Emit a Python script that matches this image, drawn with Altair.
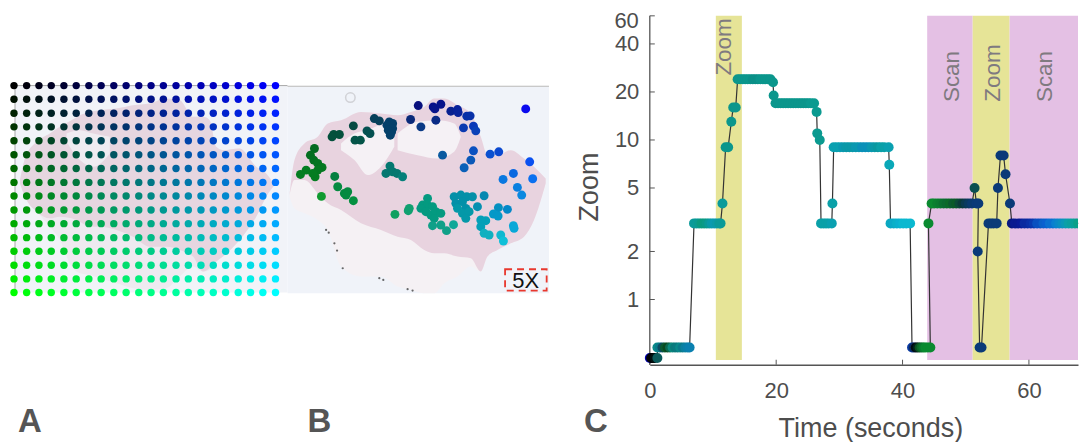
import altair as alt
import pandas as pd

FONT = "Liberation Sans"
TEXT = "#4d4d4d"

# ---------- Panel A: colour grid (reference coordinates, slide units)
grid_x = [42, 80, 117, 154, 192, 229, 267, 304, 342, 379, 417, 454, 491, 529, 566, 604, 641, 678, 716, 753, 790, 828]
grid_y = [46, 87, 129, 170, 212, 254, 295, 337, 378, 420, 461, 503, 544, 586, 627, 668]

a_tissue_x = [60, 75, 110, 150, 180, 215, 240, 270, 300, 350, 400, 450, 500, 540, 580, 610, 630, 650, 670, 720, 770, 800, 825]
a_pale_top = [330, 265, 215, 190, 170, 150, 135, 125, 120, 115, 105, 100, 85, 90, 140, 140, 150, 230, 240, 235, 290, 310, 345]
a_pale_bot = [340, 380, 425, 470, 510, 590, 610, 615, 625, 640, 655, 660, 655, 620, 590, 605, 600, 575, 560, 510, 440, 380, 345]
a_pink_bot = [340, 380, 425, 445, 440, 445, 455, 470, 470, 480, 500, 530, 530, 540, 560, 605, 595, 575, 560, 510, 440, 380, 345]
a_hole_x = [200, 240, 280, 330]
a_hole_top = [190, 180, 190, 200]
a_hole_bot = [215, 270, 290, 250]

# ---------- Panel B: tissue and visited positions
b_tissue_x = [15, 30, 60, 100, 130, 170, 230, 290, 340, 380, 420, 450, 480, 520, 560, 590, 610, 640, 680, 720, 750, 785]
b_pale_top = [345, 240, 190, 170, 130, 120, 95, 100, 105, 95, 80, 55, 55, 75, 100, 170, 225, 225, 210, 235, 260, 295]
b_pale_bot = [350, 385, 400, 420, 450, 560, 590, 590, 620, 630, 640, 640, 610, 590, 560, 575, 530, 510, 490, 470, 420, 310]
b_pink_bot = [345, 300, 300, 340, 370, 390, 430, 450, 470, 480, 510, 520, 520, 530, 535, 575, 530, 510, 490, 470, 420, 310]
b_hole1_x = [170, 210, 250, 290, 330]
b_hole1_top = [190, 160, 150, 135, 170]
b_hole1_bot = [210, 240, 285, 260, 200]
b_hole2_x = [340, 400, 460, 510, 530]
b_hole2_top = [160, 125, 120, 130, 170]
b_hole2_bot = [210, 225, 235, 215, 170]
speck_x = [125, 133, 150, 158, 175, 285, 297, 370, 385]
speck_y = [450, 458, 490, 512, 565, 595, 600, 628, 632]

b_x = [402, 447, 452, 470, 500, 520, 522, 548, 558, 379, 410, 455, 725, 538, 568, 575,
       207, 270, 285, 148, 165, 143, 212, 228, 248, 257, 315, 325, 308, 325, 312, 322, 318,
       90, 78, 88, 100, 113, 100, 92, 65, 48, 85, 151, 160, 180, 190, 185, 207, 111,
       317, 305, 325, 338, 355,
       332, 375, 372, 430, 415, 430, 445, 410, 425, 440, 455, 470, 450, 445, 470, 487, 508,
       510, 530, 548, 565, 515, 535, 545, 520, 535, 555, 545, 580, 600,
       605, 590, 590, 600, 615, 643, 670, 628, 642, 688, 690, 650, 658,
       475, 568, 618, 644, 737, 560, 540, 688, 657, 746, 700, 713]
b_y = [76, 80, 86, 72, 93, 88, 97, 108, 107, 118, 140, 120, 86, 143, 138, 152,
       137, 115, 122, 163, 163, 170, 180, 180, 152, 160, 125, 130, 135, 145, 150, 155, 165,
       205, 225, 240, 250, 262, 270, 290, 270, 283, 280, 289, 320, 340, 335, 345, 362, 349,
       258, 280, 275, 280, 290,
       403, 385, 392, 355, 375, 375, 380, 385, 395, 405, 395, 400, 415, 437, 435, 452, 434,
       350, 345, 350, 350, 370, 365, 385, 385, 400, 395, 415, 380, 347,
       422, 420, 440, 460, 465, 383, 388, 402, 408, 437, 445, 465, 483,
       225, 212, 222, 215, 245, 240, 263, 280, 298, 296, 322, 345]
b_color = ["#08107e", "#08108a", "#08148a", "#06128a", "#08208f", "#08209a", "#08229a", "#0830a8", "#0830a8", "#0a2a7a", "#0a3a85", "#0a2a85", "#0a0aee", "#0a38b0", "#0a38b8", "#0a40b8",
           "#064a42", "#06405a", "#06405a", "#04503c", "#04503c", "#04503c", "#045448", "#045448", "#045050", "#045050", "#04406a", "#04406a", "#04406a", "#04406a", "#04406a", "#04406a", "#04406a",
           "#046a20", "#046e20", "#047020", "#047420", "#047820", "#047820", "#047c20", "#047c20", "#047c20", "#047c20", "#048040", "#048a40", "#048a40", "#048a40", "#048a40", "#049040", "#109a30",
           "#047870", "#047870", "#047870", "#047870", "#04807a",
           "#10a060", "#10a070", "#10a070", "#049a80", "#049a80", "#049a80", "#049a80", "#049a80", "#049a80", "#049a80", "#049a80", "#049a80", "#049a80", "#10a088", "#10a088", "#10a088", "#10a898",
           "#0490a8", "#0490a8", "#0490a8", "#0490a8", "#0490a8", "#0490a8", "#0490a8", "#0498a8", "#0498a8", "#0498a8", "#0498a8", "#0490b0", "#0488b0",
           "#04a0b8", "#04a0b8", "#04a0b8", "#10b0c0", "#10b0c0", "#0490c0", "#0488c8", "#0498c8", "#0498c8", "#08a8d8", "#08a8d8", "#10b8d0", "#10c0d8",
           "#0a5aa0", "#0a50c0", "#0a50d0", "#0a48d0", "#0a50f0", "#0a58b8", "#0a60b8", "#0a68e0", "#0a78e0", "#0a70f0", "#0a80e0", "#0a88e0"]

# ---------- Panel C: zoom trace
time_s = [0.0, 0.2, 0.4, 0.6, 0.8, 1.2,
          1.2, 1.6, 2.0, 2.4, 2.8, 3.2, 3.6, 4.0, 4.4, 4.8, 5.2, 5.6, 6.0, 6.3,
          7.0, 7.4, 7.8, 8.2, 8.6, 9.0, 9.4, 9.8, 10.2, 10.6, 11.0, 11.2,
          11.5, 12.0, 12.4, 12.9, 13.2, 13.6,
          13.9, 14.3, 14.7, 15.1, 15.5, 15.9, 16.3, 16.7, 17.1, 17.5, 17.9, 18.3, 18.7, 19.1, 19.5,
          19.6, 19.9, 20.3, 20.7, 21.1, 21.5, 21.9, 22.3, 22.7, 23.1, 23.5, 23.9, 24.3, 24.7, 25.1, 25.5, 26.0,
          26.4, 26.5, 26.9,
          27.1, 27.5, 27.9, 28.3, 28.8, 28.9,
          29.1, 29.6, 30.1, 30.6, 31.1, 31.6, 32.1, 32.6, 33.1, 33.6, 34.1, 34.6, 35.1, 35.6, 36.1, 36.6, 37.1, 37.8,
          37.9, 38.1, 38.6, 39.1, 39.6, 40.1, 40.6, 41.2,
          41.5, 41.8, 42.1, 42.4, 42.7, 43.0, 43.3, 43.6, 44.0, 44.4,
          44.1, 44.6,
          45.0, 45.5, 46.0, 46.5, 47.0, 47.5, 48.0, 48.5, 49.0, 49.5, 50.0, 50.5, 51.0, 51.4, 51.7, 52.0,
          51.9, 52.2, 52.5,
          53.6, 54.0, 54.4, 54.9, 55.1, 55.5, 56.0, 56.3, 57.0,
          57.3, 57.8, 58.3, 58.8, 59.3, 59.8, 60.3, 60.8, 61.3, 61.8, 62.3, 62.8, 63.3, 63.8, 64.3, 64.8, 65.3, 65.8, 66.3, 66.8, 67.3, 67.8]
zoom_level = [0.43, 0.43, 0.43, 0.43, 0.43, 0.43,
              0.5, 0.5, 0.5, 0.5, 0.5, 0.5, 0.5, 0.5, 0.5, 0.5, 0.5, 0.5, 0.5, 0.5,
              3, 3, 3, 3, 3, 3, 3, 3, 3, 3, 3, 3,
              4, 9, 9, 13, 16, 16,
              24, 24, 24, 24, 24, 24, 24, 24, 24, 24, 24, 24, 24, 24, 23,
              19, 17, 17, 17, 17, 17, 17, 17, 17, 17, 17, 17, 17, 17, 17, 17, 17,
              15, 11, 10,
              3, 3, 3, 3, 3, 4,
              9, 9, 9, 9, 9, 9, 9, 9, 9, 9, 9, 9, 9, 9, 9, 9, 9, 9,
              7, 3, 3, 3, 3, 3, 3, 3,
              0.5, 0.5, 0.5, 0.5, 0.5, 0.5, 0.5, 0.5, 0.5, 0.5,
              3, 4,
              4, 4, 4, 4, 4, 4, 4, 4, 4, 4, 4, 4, 4, 5, 4, 4,
              2, 0.5, 0.5,
              3, 3, 3, 3, 5, 8, 8, 6.1, 4,
              3, 3, 3, 3, 3, 3, 3, 3, 3, 3, 3, 3, 3, 3, 3, 3, 3, 3, 3, 3, 3, 3]
point_color = ["#0000b0", "#000010", "#000000", "#000000", "#001010", "#0a5a5a",
               "#0a8a8a", "#0a7a8a", "#0a4a60", "#0a5a30", "#0a4a20", "#0a6a50", "#0a8a80", "#0a7a7a", "#0a7a80", "#0a8a8a", "#0a7a8a", "#0a80a0", "#0a80a8", "#0a80b0",
               "#0a9a9a", "#0a9a98", "#0a9a90", "#0a9a80", "#0a9a80", "#0a9a88", "#0a9a98", "#0a9aa8", "#0a9ab0", "#0a9aa8", "#0a9a9a", "#0a9a98",
               "#0a9a9a", "#0b968c", "#0b968c", "#0b968c", "#0b968c", "#0b968c",
               "#0b968c", "#0b968c", "#0b968c", "#0b968c", "#0b968c", "#0b968c", "#0b9088", "#0b9088", "#0b9088", "#0b968c", "#0b968c", "#0b968c", "#0b968c", "#0b968c", "#0b968c",
               "#0b968c", "#0b968c", "#0b968c", "#0b968c", "#0b968c", "#0b968c", "#0b968c", "#0b968c", "#0b968c", "#0b968c", "#0b968c", "#0b968c", "#0b968c", "#0b968c", "#0b968c", "#0b9a90", "#0b9a90",
               "#0b9a90", "#0b9a90", "#0b9a90",
               "#0aa0a8", "#0aa0a8", "#0aa0a8", "#0aa0a8", "#0aa0b0", "#0aa0a8",
               "#0aa0b0", "#0aa0b0", "#0aa0b0", "#0a98b0", "#0a98a8", "#0a98a8", "#0a98a8", "#0a98b0", "#0a98b0", "#0a90b8", "#0a90b8", "#0a90b8", "#0a98b0", "#0a98a8", "#0a98a0", "#0aa0a8", "#0aa0a8", "#0aa0b0",
               "#0aa8b8", "#0aa8c0", "#0aa8c8", "#0ab0c8", "#0ab0d0", "#0ab8d0", "#0ab8d0", "#0ab8d0",
               "#0a3aa0", "#0a2a60", "#000a10", "#00201a", "#0a5020", "#0a6a28", "#0a7a30", "#0a8a30", "#0a8a30", "#0a8a30",
               "#0a8a30", "#0a8a30",
               "#0a8a30", "#0a8030", "#0a7a30", "#0a7030", "#0a6a30", "#0a6a28", "#0a5a30", "#0a5a28", "#0a4a38", "#0a3a3a", "#0a3a50", "#0a3a60", "#0a3a70", "#0a5050", "#0a3a78", "#0a3a78",
               "#0a3a78", "#0a3a78", "#0a3a78",
               "#0a3a78", "#0a3a78", "#0a3a78", "#0a3a78", "#0a3a78", "#0a3a78", "#0a3a78", "#0a3a78", "#0a3a78",
               "#0a1a80", "#0a1a90", "#0a1a90", "#0a1a98", "#0a2aa0", "#0a2aa0", "#0a30a8", "#0a3ab0", "#0a50c0", "#0a50c0", "#0a60c8", "#0a60d0", "#0a70d0", "#0a70d0", "#0a80d0", "#0a88c8", "#0a90c0", "#0a98b8", "#0aa0a8", "#0aa0a0", "#0aa098", "#0aa088"]

T_MAX = 67.77
band_start = [10.45, 43.9, 51.1, 56.95]
band_end = [14.57, 51.1, 56.95, T_MAX]
band_color = ["#e6e497", "#e4c0e4", "#e6e497", "#e4c0e4"]
band_label = ["Zoom", "Scan", "Zoom", "Scan"]
label_t = [11.8, 47.8, 54.3, 62.6]
label_z = [38.3, 25, 26.3, 25]
band_top = [60, 60, 60, 60]
band_bottom = [0.418, 0.418, 0.418, 0.418]
axis_low = [0.39]
x_ticks = [0, 20, 40, 60]
y_ticks = [1, 2, 5, 10, 20, 40, 60]
y_labels = [1, 2, 5, 10, 20, 40]

H_SIDE = 427
AX = alt.X("x:Q", axis=None, scale=alt.Scale(domain=[24, 864]))
AY = alt.Y("y:Q", axis=None, scale=alt.Scale(domain=[-186, 1095], reverse=True))
BX = alt.X("x:Q", axis=None, scale=alt.Scale(domain=[9, 1098]))
BY = alt.Y("y:Q", axis=None, scale=alt.Scale(domain=[-216, 1065], reverse=True))


def band_area(xs, top, bot, color, X, Y, opacity=1.0):
    d = pd.DataFrame({"x": xs, "y": top, "y2": bot})
    return alt.Chart(d).mark_area(color=color, opacity=opacity, interpolate="monotone").encode(
        x=X, y=Y, y2="y2:Q")


def letter(txt, px):
    d = pd.DataFrame({"t": [txt]})
    return alt.Chart(d).mark_text(fontSize=33, fontWeight="bold", font=FONT, color="#555555",
                                  align="left", baseline="middle").encode(
        text="t:N", x=alt.value(px), y=alt.value(414))


# Panel A
grid = pd.DataFrame(
    [{"x": gx, "y": gy,
      "c": "#00%02x%02x" % (round(255 * j / (len(grid_y) - 1)), round(255 * i / (len(grid_x) - 1)))}
     for j, gy in enumerate(grid_y) for i, gx in enumerate(grid_x)])
a_bg = alt.Chart(pd.DataFrame({"x": [45], "x2": [864], "y": [46], "y2": [668]})).mark_rect(color="#f1f3f8").encode(
    x=AX, x2="x2:Q", y=AY, y2="y2:Q")
a_top = alt.Chart(pd.DataFrame({"x": [45], "x2": [864], "y": [46]})).mark_rule(color="#a8a8a8", strokeWidth=1).encode(
    x=AX, x2="x2:Q", y=AY)
a_left = alt.Chart(pd.DataFrame({"x": [45], "y": [46], "y2": [668]})).mark_rule(color="#a8a8a8", strokeWidth=1).encode(
    x=AX, y=AY, y2="y2:Q")
a_dots = alt.Chart(grid).mark_circle(size=55, opacity=1).encode(x=AX, y=AY, color=alt.Color("c:N", scale=None))
panel_a = alt.layer(
    a_bg,
    band_area(a_tissue_x, a_pale_top, a_pale_bot, "#eeeaf0", AX, AY),
    band_area(a_tissue_x, a_pale_top, a_pink_bot, "#e6d6e0", AX, AY),
    band_area(a_hole_x, a_hole_top, a_hole_bot, "#efecf1", AX, AY),
    a_top, a_left, a_dots, letter("A", 10),
).properties(width=280, height=H_SIDE)

# Panel B
b_df = pd.DataFrame({"x": b_x, "y": b_y, "c": b_color})
b_bg = alt.Chart(pd.DataFrame({"x": [9], "x2": [795], "y": [20], "y2": [640]})).mark_rect(color="#f0f3f9").encode(
    x=BX, x2="x2:Q", y=BY, y2="y2:Q")
b_top = alt.Chart(pd.DataFrame({"x": [9], "x2": [795], "y": [18]})).mark_rule(color="#b8b8b8", strokeWidth=1).encode(
    x=BX, x2="x2:Q", y=BY)
b_ring = alt.Chart(pd.DataFrame({"x": [198], "y": [52]})).mark_point(size=90, color="#c4c4c8", strokeWidth=1.5).encode(x=BX, y=BY)
b_specks = alt.Chart(pd.DataFrame({"x": speck_x, "y": speck_y})).mark_circle(size=5, color="#444444", opacity=0.8).encode(x=BX, y=BY)
b_dots = alt.Chart(b_df).mark_circle(size=80, opacity=1).encode(x=BX, y=BY, color=alt.Color("c:N", scale=None))
b_box = alt.Chart(pd.DataFrame({"x": [663], "x2": [788], "y": [568], "y2": [632]})).mark_rect(
    fillOpacity=0, stroke="#e8382e", strokeWidth=1.8, strokeDash=[7, 5]).encode(x=BX, x2="x2:Q", y=BY, y2="y2:Q")
b_text = alt.Chart(pd.DataFrame({"x": [725], "y": [604], "t": ["5X"]})).mark_text(
    fontSize=22, font=FONT, color="#111111").encode(x=BX, y=BY, text="t:N")
panel_b = alt.layer(
    b_bg,
    band_area(b_tissue_x, b_pale_top, b_pale_bot, "#f5f1f4", BX, BY),
    band_area(b_tissue_x, b_pale_top, b_pink_bot, "#e8d3df", BX, BY),
    band_area(b_hole1_x, b_hole1_top, b_hole1_bot, "#f5f1f5", BX, BY),
    band_area(b_hole2_x, b_hole2_top, b_hole2_bot, "#f5f1f5", BX, BY),
    b_top, b_ring, b_specks, b_dots, b_box, b_text, letter("B", 20),
).properties(width=363, height=H_SIDE)

# Panel C
XS = alt.Scale(domain=[0, T_MAX], nice=False, zero=False)
YS = alt.Scale(type="log", domain=[0.39, 66.8], nice=False, base=10)
XA = alt.Axis(values=x_ticks, grid=False, ticks=False, labelPadding=16, titlePadding=14, titleX=221,
              labelFlush=False, domainColor="#555555", domainWidth=1.3)
YA = alt.Axis(values=y_labels, grid=False, ticks=False, domain=False, format="d", labelPadding=11,
              titlePadding=11)
XT = "Time (seconds)"
YT = "Zoom"
bands = pd.DataFrame({"t0": band_start, "t1": band_end, "z0": band_top, "z1": band_bottom, "c": band_color})
trace = pd.DataFrame({"t": time_s, "z": zoom_level, "c": point_color, "i": list(range(len(time_s)))})
labels = pd.DataFrame({"t": label_t, "z": label_z, "s": band_label})


def cx(f):
    return alt.X(f, scale=XS, title=XT, axis=XA)


def cy(f):
    return alt.Y(f, scale=YS, title=YT, axis=YA)


c_bands = alt.Chart(bands).mark_rect(opacity=1).encode(
    x=cx("t0:Q"), x2="t1:Q", y=cy("z0:Q"), y2="z1:Q", color=alt.Color("c:N", scale=None))
c_text = alt.Chart(labels).mark_text(angle=270, fontSize=22.5, font=FONT, color="#7f7a80").encode(
    x=cx("t:Q"), y=cy("z:Q"), text="s:N")
c_xt = alt.Chart(pd.DataFrame({"t": x_ticks})).mark_rule(color="#555555", strokeWidth=1).encode(
    x=cx("t:Q"), y=alt.value(357), y2=alt.value(352))
c_yt = alt.Chart(pd.DataFrame({"z": y_ticks})).mark_rule(color="#555555", strokeWidth=1).encode(
    y=cy("z:Q"), x=alt.value(0), x2=alt.value(5))
c_yline = alt.Chart(pd.DataFrame({"z": [max(y_ticks)], "z2": axis_low})).mark_rule(color="#555555", strokeWidth=1.3).encode(
    y=cy("z:Q"), y2="z2:Q", x=alt.value(0))
c_top_label = alt.Chart(pd.DataFrame({"z": [max(y_ticks)], "s": [str(max(y_ticks))]})).mark_text(
    fontSize=22, font=FONT, color=TEXT, align="right", baseline="middle", dy=5).encode(
    y=cy("z:Q"), x=alt.value(-11), text="s:N")
c_line = alt.Chart(trace).mark_line(color="#333333", strokeWidth=1.2).encode(
    x=cx("t:Q"), y=cy("z:Q"), order="i:Q")
c_pts = alt.Chart(trace).transform_filter("datum.t < 60").mark_circle(size=100, opacity=1).encode(
    x=cx("t:Q"), y=cy("z:Q"), color=alt.Color("c:N", scale=None), order="i:Q")
c_pts_end = alt.Chart(trace).transform_filter("datum.t >= 60").mark_circle(size=100, opacity=1, clip=True).encode(
    x=cx("t:Q"), y=cy("z:Q"), color=alt.Color("c:N", scale=None), order="i:Q")
panel_c = alt.layer(c_bands, c_text, c_xt, c_yt, c_yline, c_top_label, c_line, c_pts, c_pts_end,
                    letter("C", -66)).properties(width=429, height=357)

chart = alt.hconcat(panel_a, panel_b, panel_c, spacing=0, bounds="flush").properties(
    padding={"left": 0, "top": 0, "right": 0, "bottom": 0}
).configure_view(stroke=None).configure_axis(
    labelFont=FONT, titleFont=FONT, labelFontSize=22, titleFontSize=27,
    labelColor=TEXT, titleColor=TEXT, titleFontWeight="normal"
)
chart.save("out.html", embed_options={"renderer": "svg", "actions": False})
